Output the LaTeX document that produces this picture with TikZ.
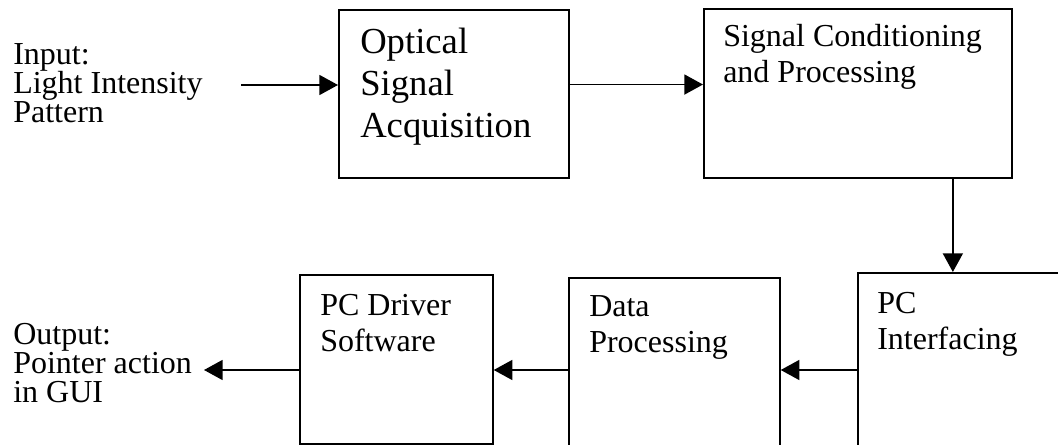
\documentclass[tikz,border=0pt]{standalone}
\usepackage{fontspec}
\setmainfont{Liberation Serif}
\usetikzlibrary{positioning,calc,arrows.meta}

\begin{document}
\begin{tikzpicture}[x=0.75pt, y=-0.75pt,
  block/.style={draw, line width=1.3pt, anchor=north west, inner sep=0pt},
  blocktext/.style={anchor=base west, inner sep=0pt, align=left,
                    font=\fontsize{24}{27.5}\selectfont},
  iolabel/.style={anchor=base west, inner sep=0pt, align=left,
                  font=\fontsize{24}{22}\selectfont},
  flow/.style={line width=1.3pt, -{Triangle[length=14pt, width=15pt]}}]
\useasboundingbox (0,0) rectangle (1058,445);
\clip (0,0) rectangle (1058,445);

% top row
\node[block, minimum width=172.5pt, minimum height=126pt] (optic) at (338,9) {};
\node[block, minimum width=231pt, minimum height=126.75pt] (cond) at (703,8) {};
% bottom row (runs off the page edge)
\node[block, minimum width=195pt, minimum height=165pt] (pci) at (857,272) {};
\node[block, minimum width=158.25pt, minimum height=150pt] (dproc) at (568,277) {};
\node[block, minimum width=144.75pt, minimum height=126.75pt] (driver) at (299,274) {};

% block texts hang from the baseline of their last line
\node[blocktext, font=\fontsize{27.5}{31.5}\selectfont]
  at ([xshift=16.5pt, yshift=-96.75pt]optic.north west) {Optical\\Signal\\Acquisition};
\node[blocktext] at ([xshift=15pt, yshift=-56.25pt]cond.north west) {Signal Conditioning\\and Processing};
\node[blocktext] at ([xshift=15pt, yshift=-58.5pt]pci.north west) {PC\\Interfacing};
\node[blocktext] at ([xshift=15.75pt, yshift=-57pt]dproc.north west) {Data\\Processing};
\node[blocktext] at ([xshift=15.75pt, yshift=-58.5pt]driver.north west) {PC Driver\\Software};

\node[iolabel] (inlabel) at (13,123) {Input:\\Light Intensity\\Pattern};
\node[iolabel] (outlabel) at (13,403) {Output:\\Pointer action\\in GUI};

\coordinate (src) at (241,85);
\coordinate (sink) at (204,370);
\coordinate (row) at (0,370);

\draw[flow] (src) -- (src -| optic.west);
\draw[flow] ([yshift=7pt]optic.east) -- ([yshift=7pt]optic.east -| cond.west);
\draw[flow] ([xshift=71.25pt]cond.south) -- ([xshift=71.25pt]cond.south |- pci.north);
\draw[flow] (pci.west |- row) -- (dproc.east |- row);
\draw[flow] (dproc.west |- row) -- (driver.east |- row);
\draw[flow] (driver.west |- row) -- (sink);
\end{tikzpicture}
\end{document}
